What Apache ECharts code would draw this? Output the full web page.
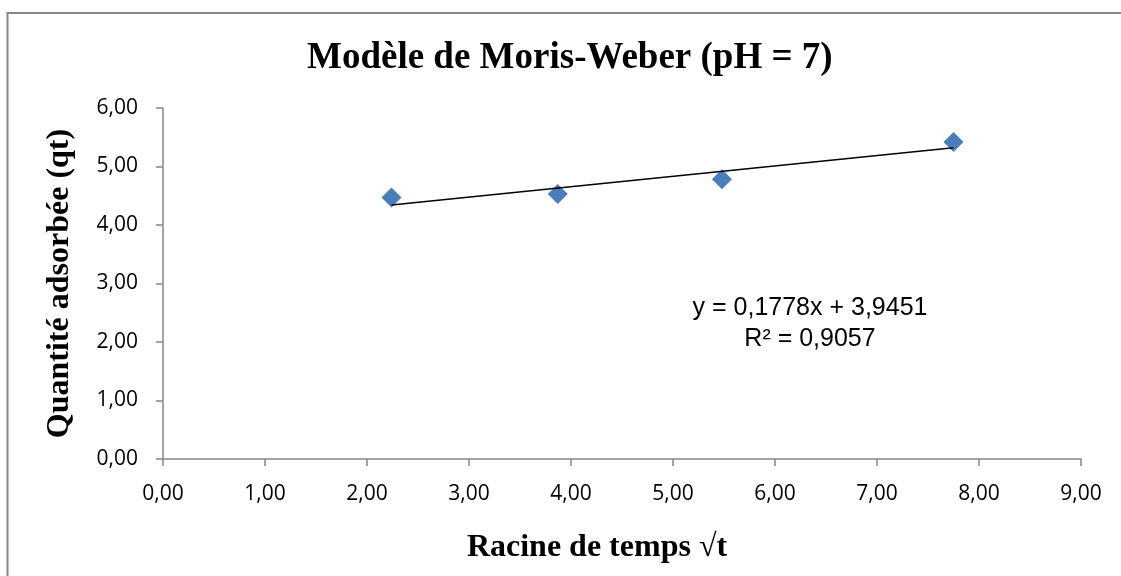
<!DOCTYPE html>
<html><head><meta charset="utf-8">
<script src="https://cdn.jsdelivr.net/npm/echarts@6/dist/echarts.min.js"></script>
<style>html,body{margin:0;padding:0;background:#fff}#c{width:1121px;height:576px}</style>
</head><body><div id="c"></div>
<script>
const xValues = [2.24, 3.87, 5.48, 7.75];
const yValues = [4.47, 4.53, 4.78, 5.42];
const trendX = [2.24, 7.75];
const trendY = [4.34, 5.32];
const titleText = 'Modèle de Moris-Weber (pH = 7)';
const xName = 'Racine de temps √t';
const yName = 'Quantité adsorbée (qt)';
const eqLines = ['y = 0,1778x + 3,9451', 'R² = 0,9057'];

const chart = echarts.init(document.getElementById('c'), null, {renderer: 'canvas'});
const fmt = v => v.toFixed(2).replace('.', ',');
const axisCommon = {
  axisLine: {show: true, lineStyle: {color: '#868686', width: 1.5}},
  axisTick: {show: true, length: 7, inside: false, lineStyle: {color: '#868686', width: 1.5}},
  splitLine: {show: false},
  axisLabel: {color: '#000', fontFamily: 'Open Sans', fontSize: 21, formatter: fmt, margin: 25},
  nameTextStyle: {fontFamily: 'Liberation Serif', fontWeight: 'bold', fontSize: 32, color: '#000'}
};
chart.setOption({
  animation: false,
  backgroundColor: '#fff',
  title: {text: titleText, left: 307, top: 40, padding: 0,
    textStyle: {fontFamily: 'Liberation Serif', fontWeight: 'bold', fontSize: 37, color: '#000'}},
  grid: {left: 163, right: 40, top: 108, bottom: 117},
  xAxis: Object.assign({}, axisCommon, {
    type: 'value', min: 0, max: 9, interval: 1,
    name: xName, nameLocation: 'middle', nameGap: 73,
    nameTextStyle: Object.assign({}, axisCommon.nameTextStyle, {padding: [0, 50, 0, 0]})
  }),
  yAxis: Object.assign({}, axisCommon, {
    type: 'value', min: 0, max: 6, interval: 1,
    name: yName, nameLocation: 'middle', nameGap: 87
  }),
  graphic: [
    {type: 'rect', shape: {x: 7.5, y: 13, width: 1300, height: 800}, style: {fill: 'none', stroke: '#868686', lineWidth: 2}, z: -1},
    {type: 'text', x: 810, y: 308, style: {text: eqLines[0], fontFamily: 'Liberation Sans', fontSize: 25, fill: '#000', align: 'center', verticalAlign: 'middle'}},
    {type: 'text', x: 810, y: 339, style: {text: eqLines[1], fontFamily: 'Liberation Sans', fontSize: 25, fill: '#000', align: 'center', verticalAlign: 'middle'}}
  ],
  series: [
    {type: 'line', data: trendX.map((x, i) => [x, trendY[i]]), symbol: 'none', lineStyle: {color: '#000', width: 1.5}, z: 3},
    {type: 'scatter', data: xValues.map((x, i) => [x, yValues[i]]), symbol: 'diamond', symbolSize: 20, itemStyle: {color: '#4A7EBB', opacity: 1}, z: 2}
  ]
});
</script></body></html>
